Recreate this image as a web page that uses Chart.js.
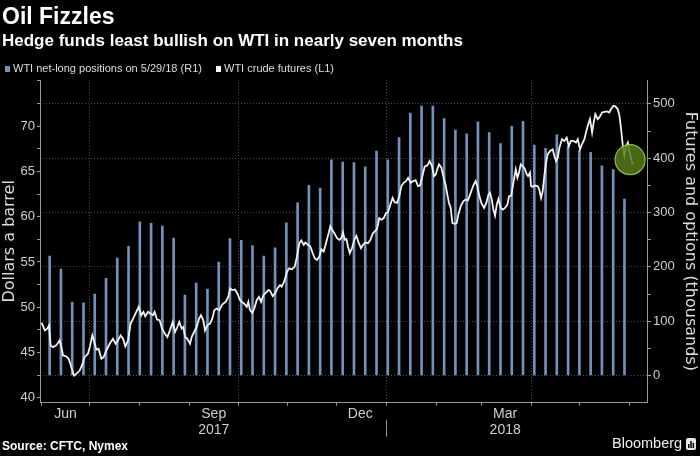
<!DOCTYPE html>
<html lang="en">
<head>
<meta charset="UTF-8">
<title>Oil Fizzles</title>
<script src="https://cdn.jsdelivr.net/npm/chart.js@4.4.1/dist/chart.umd.min.js"></script>
<style>
    html, body { margin: 0; padding: 0; background: #000; }
    body { width: 700px; height: 456px; position: relative; overflow: hidden; font-family: 'Liberation Sans', Arial, sans-serif; color: #fff; }
    .chart-box { position: absolute; left: 0; top: 0; width: 700px; height: 456px; }
    .title { position: absolute; left: 2px; top: 5px; font-size: 23px; font-weight: 700; line-height: 1; }
    .subtitle { position: absolute; left: 2px; top: 32px; font-size: 17px; font-weight: 700; line-height: 1; }
    .legend { position: absolute; left: 5px; top: 63px; font-size: 11px; line-height: 1; color: #ddd; white-space: nowrap; }
    .legend .item { display: inline-block; margin-right: 11px; }
    .legend .sw { display: inline-block; width: 5px; height: 6px; margin-right: 3px; vertical-align: 0; }
    .source { position: absolute; left: 2px; top: 440px; font-size: 12px; font-weight: 700; line-height: 1; }
    .brand { position: absolute; left: 612px; top: 436px; font-size: 14.5px; line-height: 1; color: #eee; }
    .brand svg { vertical-align: -2px; margin-left: 4px; }
</style>
</head>
<body>
    <div class="chart-box"><canvas id="oilChart"></canvas></div>
    <div class="title">Oil Fizzles</div>
    <div class="subtitle">Hedge funds least bullish on WTI in nearly seven months</div>
    <div class="legend">
        <span class="item"><span class="sw" style="background:#7391b9"></span>WTI net-long positions on 5/29/18 (R1)</span>
        <span class="item"><span class="sw" style="background:#fff"></span>WTI crude futures (L1)</span>
    </div>
    <div class="source">Source: CFTC, Nymex</div>
    <div class="brand">Bloomberg<svg width="10" height="12" viewBox="0 0 10 12"><rect x="0" y="0" width="10" height="12" rx="2" fill="#e6e6e6"/><rect x="2" y="6" width="1.5" height="4" fill="#000"/><rect x="4.3" y="3" width="1.5" height="7" fill="#000"/><rect x="6.6" y="5" width="1.5" height="5" fill="#000"/></svg></div>
<script>
    // x positions are days since 2017-06-01
    const barDays = [5,12,19,26,33,40,47,54,61,68,75,82,89,96,103,110,117,124,131,138,145,152,159,166,173,180,187,194,201,208,215,222,229,236,243,250,257,264,271,278,285,292,299,306,313,320,327,334,341,348,355,362];
    // net-long positions, thousands of contracts (right axis)
    const netLong = [220,196,135,134,150,179,216,238,283,280,275,253,148,170,159,209,252,249,239,220,235,281,318,350,345,397,393,392,384,413,397,438,483,496,496,473,452,445,467,447,427,459,468,424,418,443,423,414,411,386,379,325];

    // WTI crude futures, dollars a barrel (left axis)
    const lineDays = [0,2,3.5,4.6,5.6,7.1,9.1,11.2,12.3,13.3,15.4,16.8,18.5,20.1,21.6,23.6,25.1,26.7,28.8,30.2,31.5,33,34,35.4,37.1,38.5,40.2,42.3,44.3,46,47.4,49.1,50.6,52,53.7,55.3,56.8,58.8,60.3,61.9,63.2,64.4,66.1,67.5,69.2,70.2,71.7,73.3,74.8,76.6,78.1,79.7,81.4,82.9,84.3,85.5,87,88,89.1,90.5,92.2,93.2,94.7,96.3,97.8,99,100.4,101.5,102.9,104.6,106,107.3,108.7,110.4,111.9,112.9,114.3,116,117,118.4,120.1,121.6,123.2,124.3,125.7,127.4,128.4,129.4,130.9,132.1,133.6,135,136.3,137.7,139.2,140.8,141.9,143.5,145,146.4,148.1,149.1,150.6,152.4,153.8,155.5,157.2,158.6,160.1,161.3,162.8,163.8,165.5,166.9,168.4,169.6,171,172.5,173.7,175.2,176.6,178.3,179.3,180.4,182,183.5,184.9,186.1,187.2,188.3,189.3,190.3,191.4,192.8,194.2,195.5,197,198.4,199.6,201.1,202.7,204.2,205.6,206.9,208.3,209.7,211,212.5,213.9,215.1,216.6,218,219.3,220.7,222.2,223.4,224.9,226.3,227.6,229.2,230.9,232.3,233.8,235,236.5,237.9,239.6,241,242.5,243.7,244.8,245.8,246.8,248.3,249.5,251,252,253,254.1,255.1,256.6,257.8,258.8,260.3,261.9,263.4,264.8,266.5,268.1,269.6,270.6,271.7,273.1,274.8,276.2,277.5,278.5,279.6,280.6,281.6,282.7,283.7,285.2,286.5,287.8,289.3,290.3,291.7,293,294.5,295.5,296.5,297.6,299,300.1,301.3,302.1,303.3,304,305,306.6,308.1,309.1,310.2,311.2,312.2,313.3,314.3,315.8,317.4,318.5,319.5,320.6,321.6,323.2,324.7,326.1,327.4,328.8,330.2,331.9,333,334.4,335.6,337.1,338.1,339.2,340.6,341.9,342.9,343.9,345.4,346.4,348.1,349.5,351,352.6,353.7,355.1,356.3,357.8,358.9,359.9,361,362,363,364.1,365.1,366.2,367.2];
    const wtiPrice = [48.3,47.44,47.63,48.0,45.78,45.59,45.78,46.33,45.59,44.67,44.56,44.3,43.37,42.44,42.63,43.0,43.56,44.48,44.85,45.78,46.89,45.96,45.3,45.41,44.3,44.48,45.22,45.96,46.52,45.96,46.33,46.89,46.52,45.67,46.33,48.19,48.74,49.48,50.04,49.11,49.48,49.0,49.48,49.3,49.11,49.48,48.63,48.56,47.63,47.07,46.7,47.44,48.37,47.26,47.81,48.37,47.63,47.81,46.7,46.52,45.96,46.7,47.26,47.81,48.74,49.11,48.56,47.44,48.0,48.19,48.74,49.67,49.85,49.67,50.22,50.41,50.59,51.15,52.07,51.89,51.96,51.52,50.78,50.59,50.41,50.04,50.59,49.67,49.37,49.85,50.78,51.15,50.59,51.33,51.59,51.89,51.81,51.22,51.52,52.07,52.44,52.26,52.81,53.93,54.3,54.19,54.48,55.59,57.07,57.37,56.89,57.15,56.89,56.7,55.96,55.41,55.22,55.59,56.41,56.15,57.07,58.19,58.93,58.56,58.11,57.63,57.44,57.63,58.26,57.44,57.52,56.7,55.96,56.52,57.44,57.89,57.07,56.52,56.89,57.15,57.07,57.44,58.11,58.37,58.63,59.85,59.67,59.85,60.41,60.48,61.33,62.07,61.59,61.52,62.26,63.37,63.74,63.93,64.3,63.74,63.93,64.04,63.37,63.44,64.48,65.52,65.67,66.15,65.59,64.48,64.67,65.3,65.78,65.41,64.48,63.44,62.44,61.52,60.96,59.3,59.22,59.3,60.22,61.15,61.7,61.89,61.81,62.63,63.44,63.93,63.37,62.44,61.52,60.96,61.52,62.44,62.63,61.89,60.78,60.11,61.33,61.96,60.96,60.78,60.96,61.33,62.26,62.33,63.74,65.22,64.3,64.85,65.78,65.52,65.3,64.67,64.48,64.85,63.37,63.3,63.44,63.37,63.0,62.07,62.81,64.48,65.96,66.89,67.26,67.44,66.7,66.15,66.52,67.63,68.56,68.37,68.74,67.81,68.37,68.37,68.19,68.56,67.44,68.0,68.56,69.3,70.04,70.78,69.3,70.41,71.33,70.78,70.96,71.52,71.59,71.63,71.52,71.89,72.26,72.19,71.89,71.15,69.67,67.81,66.7,67.81,68.19,67.26,66.33,65.78];

    // highlight circle on the latest move
    const markDay = [365.5];
    const markPrice = [66.3];

    // axis ticks
    const monthDays = [0,30,61,92,122,153,183,214,245,273,304,334,365];
    const monthLabels = ['Jun','','',['Sep','2017'],'','','Dec','','',['Mar','2018'],'','',''];
    const quarterDays = [30,122,214,304];
    const yearBreakDay = 214;
    const leftTicks = [40,42.5,45,47.5,50,52.5,55,57.5,60,62.5,65,67.5,70,72.5,75];
    const rightTicks = [0,50,100,150,200,250,300,350,400,450,500];

    const axisGray = '#9a9a9a';
    const gridGray = '#4a4a4a';
    const labelColor = '#cfcfcf';
    const fontFamily = "'Liberation Sans', Arial, sans-serif";

    // short divider between 2017 and 2018 under the x axis
    const yearDivider = {
        id: 'yearDivider',
        afterDraw(chart) {
            const xs = chart.scales.x;
            const px = Math.round(xs.getPixelForValue(yearBreakDay)) + 0.5;
            const ctx = chart.ctx;
            ctx.save();
            ctx.strokeStyle = axisGray;
            ctx.lineWidth = 1;
            ctx.beginPath();
            ctx.moveTo(px, xs.top + 17);
            ctx.lineTo(px, xs.top + 34);
            ctx.stroke();
            ctx.restore();
        }
    };

    new Chart(document.getElementById('oilChart'), {
        type: 'bar',
        data: {
            datasets: [
                {
                    type: 'line',
                    label: 'mark',
                    data: markDay.map((d, i) => ({ x: d, y: markPrice[i] })),
                    yAxisID: 'yL',
                    showLine: false,
                    pointRadius: 15,
                    pointBackgroundColor: 'rgba(86,122,26,0.85)',
                    pointBorderColor: '#8fc43a',
                    pointBorderWidth: 1.2,
                    order: 1
                },
                {
                    type: 'line',
                    label: 'WTI crude futures (L1)',
                    data: lineDays.map((d, i) => ({ x: d, y: wtiPrice[i] })),
                    yAxisID: 'yL',
                    borderColor: '#f2f2f2',
                    borderWidth: 1.8,
                    pointRadius: 0,
                    tension: 0,
                    order: 2
                },
                {
                    type: 'bar',
                    label: 'WTI net-long positions on 5/29/18 (R1)',
                    data: barDays.map((d, i) => ({ x: d, y: netLong[i] })),
                    yAxisID: 'yR',
                    backgroundColor: '#7391b9',
                    barThickness: 2,
                    order: 3
                }
            ]
        },
        options: {
            responsive: true,
            maintainAspectRatio: false,
            animation: false,
            layout: { padding: { top: 80, left: 0, right: 0, bottom: 0 } },
            plugins: { legend: { display: false }, tooltip: { enabled: false } },
            scales: {
                x: {
                    type: 'linear',
                    min: -1,
                    max: 376,
                    offset: false,
                    afterBuildTicks: s => { s.ticks = monthDays.map(v => ({ value: v })); },
                    afterFit: s => { s.height = 53.3; },
                    ticks: {
                        autoSkip: false,
                        maxRotation: 0,
                        labelOffset: 24,
                        padding: 1,
                        color: labelColor,
                        font: { family: fontFamily, size: 14, lineHeight: 1.1 },
                        callback: (v, i) => monthLabels[i]
                    },
                    grid: {
                        offset: false,
                        color: c => (c.tick && quarterDays.includes(c.tick.value)) ? gridGray : 'rgba(0,0,0,0)',
                        tickColor: axisGray,
                        tickLength: 3,
                        tickBorderDash: []
                    },
                    border: { color: axisGray, dash: [1, 2] }
                },
                yL: {
                    type: 'linear',
                    position: 'left',
                    min: 39.45,
                    max: 75.1,
                    afterBuildTicks: s => { s.ticks = leftTicks.map(v => ({ value: v })); },
                    afterFit: s => { s.width = 40; },
                    ticks: {
                        autoSkip: false,
                        padding: 2,
                        color: labelColor,
                        font: { family: fontFamily, size: 13 },
                        callback: v => (v % 5 === 0 && v < 75) ? String(v) : ''
                    },
                    grid: { drawOnChartArea: false, tickColor: axisGray, tickLength: 3, tickBorderDash: [] },
                    border: { color: axisGray },
                    title: {
                        display: true,
                        text: 'Dollars a barrel',
                        color: '#dddddd',
                        font: { family: "'DejaVu Sans', sans-serif", size: 16 },
                        padding: { top: 0, bottom: 0 }
                    }
                },
                yR: {
                    type: 'linear',
                    position: 'right',
                    min: -50,
                    max: 544,
                    afterBuildTicks: s => { s.ticks = rightTicks.map(v => ({ value: v })); },
                    afterFit: s => { s.width = 53; },
                    ticks: {
                        autoSkip: false,
                        padding: 2,
                        color: labelColor,
                        font: { family: fontFamily, size: 13 },
                        callback: v => (v % 100 === 0) ? String(v) : ''
                    },
                    grid: {
                        color: c => (c.tick && c.tick.value % 100 === 0) ? gridGray : 'rgba(0,0,0,0)',
                        tickColor: axisGray,
                        tickLength: 4,
                        tickBorderDash: []
                    },
                    border: { color: axisGray, dash: [1, 2] },
                    title: {
                        display: true,
                        text: 'Futures and options (thousands)',
                        color: '#dddddd',
                        font: { family: "'DejaVu Sans', sans-serif", size: 16 },
                        padding: { top: 0, bottom: 0 }
                    }
                }
            }
        },
        plugins: [yearDivider]
    });
</script>
</body>
</html>
